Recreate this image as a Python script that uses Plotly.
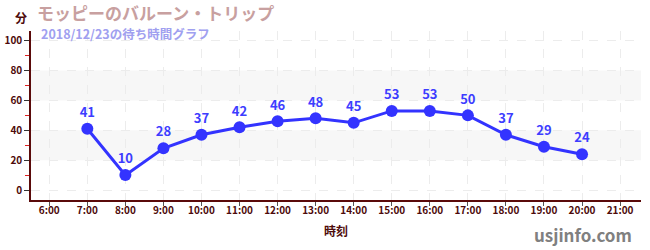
import plotly.graph_objects as go

hours = [7, 8, 9, 10, 11, 12, 13, 14, 15, 16, 17, 18, 19, 20]
waits = [41, 10, 28, 37, 42, 46, 48, 45, 53, 53, 50, 37, 29, 24]
x_ticks = list(range(6, 22))
x_labels = [f"{h}:00" for h in x_ticks]
y_ticks = [0, 20, 40, 60, 80, 100]
bands = [(20, 40), (60, 80)]

FONT = "Noto Sans CJK JP"
DARK = "#4d0a0a"

fig = go.Figure()
fig.add_trace(go.Scatter(
    x=hours, y=waits, mode="lines+markers+text",
    line=dict(color="#3333ff", width=3),
    marker=dict(color="#3333ff", size=12),
    text=[str(v) for v in waits], textposition="top center",
    textfont=dict(family=FONT, size=13, color="#3d3dff", weight="bold"),
    cliponaxis=False, hoverinfo="skip",
))

shapes = []
for lo, hi in bands:
    shapes.append(dict(type="rect", xref="paper", yref="y", x0=0, x1=1, y0=lo, y1=hi,
                       fillcolor="#f7f7f7", line=dict(width=0), layer="below"))

fig.update_layout(
    width=650, height=250,
    margin=dict(l=31, r=9, t=31, b=50, autoexpand=False),
    paper_bgcolor="white", plot_bgcolor="white",
    showlegend=False,
    shapes=shapes,
    font=dict(family=FONT),
    xaxis=dict(
        range=[5.52, 21.55], tickvals=x_ticks, ticktext=x_labels, automargin=False,
        showline=True, linecolor="#5a0a0a", linewidth=1.5,
        ticks="outside", ticklen=4, tickcolor="#555555", ticklabelstandoff=-4,
        tickfont=dict(family=FONT, size=10, color=DARK, weight="bold"),
        showgrid=True, gridcolor="#ececec", griddash="dash", zeroline=False,
        title=dict(text="時刻", font=dict(family=FONT, size=12, color=DARK, weight="bold"), standoff=12),
    ),
    yaxis=dict(
        range=[-6.67, 106.5], tickvals=y_ticks, automargin=False,
        showline=True, linecolor="#5a0a0a", linewidth=1.5,
        ticks="outside", ticklen=5, tickcolor="#333333",
        tickfont=dict(family=FONT, size=10, color=DARK, weight="bold"),
        showgrid=True, gridcolor="#ececec", griddash="dash", zeroline=False,
        minor=dict(tickvals=[10, 30, 50, 70, 90], ticks="outside", ticklen=4, tickcolor="#dd2222", showgrid=False),
    ),
    annotations=[
        dict(text="モッピーのバルーン・トリップ", x=36, y=12, xref="paper", yref="paper",
             xanchor="left", yanchor="middle", showarrow=False, borderpad=0,
             font=dict(family=FONT, size=17, color="#c8a0a0", weight="bold")),
        dict(text="2018/12/23の待ち時間グラフ", x=40, y=33.5, xref="paper", yref="paper",
             xanchor="left", yanchor="middle", showarrow=False, borderpad=0,
             font=dict(family=FONT, size=12.5, color="#a0a0f0", weight="bold")),
        dict(text="分", x=21, y=17, xanchor="center", yanchor="middle", showarrow=False,
             font=dict(family=FONT, size=12, color=DARK, weight="bold")),
        dict(text="usjinfo.com", x=634, y=234, xanchor="right", yanchor="middle", showarrow=False,
             font=dict(family=FONT, size=17, color="#808080", weight="bold")),
    ],
)

# convert pixel-positioned annotations to paper coords
W, H = 650, 250
l, r, t, b = 31, 9, 31, 50
pw, ph = W - l - r, H - t - b
new_ann = []
for a in fig.layout.annotations:
    a = a.to_plotly_json()
    px, py = a["x"], a["y"]
    a["xref"] = "paper"; a["yref"] = "paper"
    a["x"] = (px - l) / pw
    a["y"] = (H - b - py) / ph
    new_ann.append(a)
fig.layout.annotations = new_ann

fig.write_html("out.html")
